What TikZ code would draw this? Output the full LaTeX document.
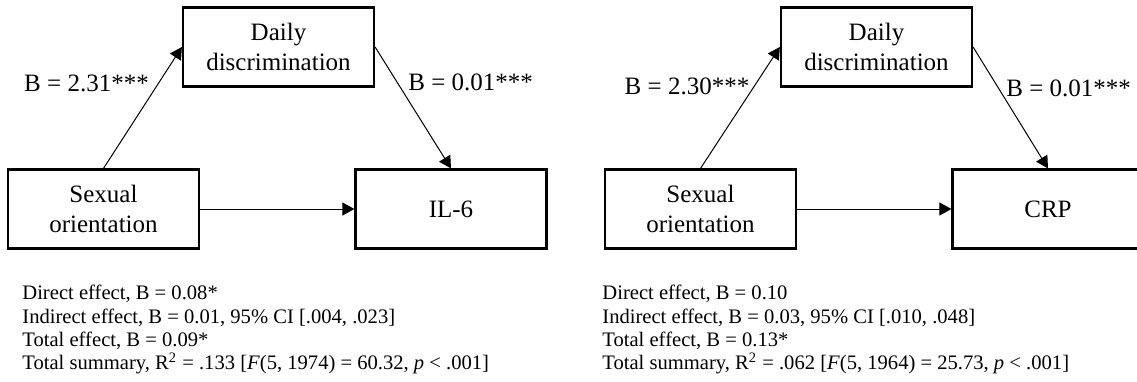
\documentclass[tikz,border=0pt]{standalone}
\usepackage{fontspec}
\setmainfont{Liberation Serif}
\usetikzlibrary{arrows.meta}

\begin{document}
\begin{tikzpicture}[x=0.5pt,y=-0.5pt,
	box/.style={draw,line width=1.1pt,minimum width=95.5pt,minimum height=39.5pt,align=center,font=\fontsize{12.5}{15}\selectfont},
	arr/.style={line width=0.5pt,-{Triangle[length=6pt,width=6.5pt]}},
	coef/.style={inner sep=0pt,font=\fontsize{12.5}{15}\selectfont},
	note/.style={align=left,anchor=north west,inner sep=0pt,font=\fontsize{10.3}{11.67}\selectfont}]
	\useasboundingbox (0,0) rectangle (1137,381);
	\clip (0,0) rectangle (1137,381);
	% left model, IL-6
	\node[box] (orientA) at (103.5,209) {Sexual\\orientation};
	\node[box] (discA) at (278.5,47) {Daily\\discrimination};
	\node[box] (il6) at (451,209) {IL-6};
	\draw[arr] (orientA.north) -- (discA.west);
	\draw[arr] (discA.east) -- (il6.north);
	\draw[arr] (orientA) -- (il6);
	\node[coef] (aA) at (86.5,83) {B = 2.31***};
	\node[coef,anchor=west] (bA) at (408,82) {B = 0.01***};
	\node[note] (sumA) at (22,285) {Direct effect, B = 0.08*\\
		Indirect effect, B = 0.01, 95\% CI [.004, .023]\\
		Total effect, B = 0.09*\\
		Total summary, R\textsuperscript{2} = .133 [\textit{F}(5, 1974) = 60.32, \textit{p} < .001]};
	% right model, CRP
	\node[box] (orientB) at (700.5,209) {Sexual\\orientation};
	\node[box] (discB) at (876.5,47) {Daily\\discrimination};
	\node[box] (crp) at (1048,209) {CRP};
	\draw[arr] (orientB.north) -- (discB.west);
	\draw[arr] (discB.east) -- (crp.north);
	\draw[arr] (orientB) -- (crp);
	\node[coef] (aB) at (687,86) {B = 2.30***};
	\node[coef,anchor=west] (bB) at (1006,88) {B = 0.01***};
	\node[note] (sumB) at (602,285) {Direct effect, B = 0.10\\
		Indirect effect, B = 0.03, 95\% CI [.010, .048]\\
		Total effect, B = 0.13*\\
		Total summary, R\textsuperscript{2} = .062 [\textit{F}(5, 1964) = 25.73, \textit{p} < .001]};
\end{tikzpicture}
\end{document}
